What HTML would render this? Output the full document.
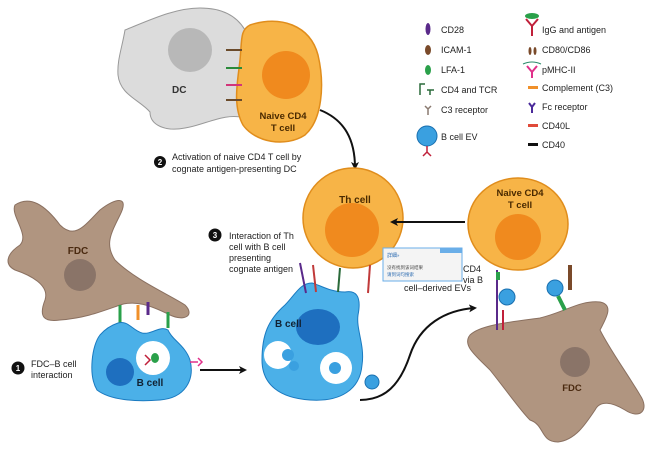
<!DOCTYPE html>
<html><head><meta charset="utf-8"><style>
body{margin:0;background:#fff}
svg{display:block;font-family:"Liberation Sans",sans-serif}
.t{font-size:9px;fill:#222}
.b{font-weight:bold}
</style></head><body>
<svg width="653" height="453" viewBox="0 0 653 453" xmlns="http://www.w3.org/2000/svg">
<defs>
<marker id="ah" markerWidth="8" markerHeight="8" refX="6" refY="4" orient="auto" markerUnits="userSpaceOnUse"><path d="M0,0 L8,4 L0,8 L2,4z" fill="#111"/></marker>
</defs>
<!-- DC -->
<path d="M125,30 C150,20 175,8 200,8 C225,8 238,18 245,30 L245,118 C225,112 205,125 185,128 C165,132 150,125 150,112 C140,100 120,95 118,75 C117,60 122,48 125,30Z" fill="#dcdcdc" stroke="#999" stroke-width="1"/>
<circle cx="190" cy="50" r="22" fill="#b8b8b8"/>
<text x="172" y="93" class="b" font-size="10" fill="#333">DC</text>
<!-- naive CD4 top -->
<path d="M250,25 C280,15 310,25 318,55 C325,85 322,120 305,135 C285,148 255,142 243,125 C232,105 238,80 240,60 C242,40 240,30 250,25Z" fill="#f7b447" stroke="#e08d1c" stroke-width="1.5"/>
<circle cx="286" cy="75" r="24" fill="#f08a1e"/>
<text x="283" y="119" class="b" font-size="9.5" fill="#4a2a00" text-anchor="middle">Naive CD4</text>
<text x="283" y="131" class="b" font-size="9.5" fill="#4a2a00" text-anchor="middle">T cell</text>
<!-- connectors DC-T -->
<g stroke-width="2">
<line x1="226" y1="50" x2="242" y2="50" stroke="#6a4a2a"/><line x1="226" y1="68" x2="242" y2="68" stroke="#2a8a3a"/>
<line x1="226" y1="85" x2="242" y2="85" stroke="#d2357a"/><line x1="226" y1="100" x2="242" y2="100" stroke="#6a4a2a"/>
</g>
<!-- step 2 -->
<circle cx="160" cy="162" r="6" fill="#111"/><text x="160" y="165" font-size="8" fill="#fff" text-anchor="middle" class="b">2</text>
<text x="172" y="160" class="t">Activation of naive CD4 T cell by</text>
<text x="172" y="172" class="t">cognate antigen-presenting DC</text>
<path d="M320,110 C345,120 355,140 355,168" fill="none" stroke="#111" stroke-width="2" marker-end="url(#ah)"/>
<!-- legend -->
<g class="t">
<ellipse cx="428" cy="29" rx="2.5" ry="6" fill="#5a2a8a"/><text x="441" y="33">CD28</text>
<ellipse cx="428" cy="50" rx="3" ry="5" fill="#7a4a2a"/><text x="441" y="53">ICAM-1</text>
<ellipse cx="428" cy="70" rx="3" ry="5" fill="#2aa04a"/><text x="441" y="73">LFA-1</text>
<path d="M420,95 L420,84 L425,84 M427,90 L434,90 M430,90 L430,95" stroke="#2a6a3a" stroke-width="1.5" fill="none"/><text x="441" y="93">CD4 and TCR</text>
<path d="M425,106 L428,109 L431,106 M428,109 L428,115" stroke="#8a7a70" stroke-width="1.5" fill="none"/><text x="441" y="113">C3 receptor</text>
<circle cx="427" cy="136" r="10" fill="#3aa0e0" stroke="#1a70b0"/><path d="M427,146 L427,153 M423,156 L427,152 L431,156" stroke="#c0203a" stroke-width="1.5" fill="none"/>
<text x="441" y="140">B cell EV</text>
<path d="M526,19 L532,26 L538,19 M532,26 L532,36" stroke="#c0203a" stroke-width="2" fill="none"/><ellipse cx="532" cy="16" rx="7" ry="3" fill="#2aa04a"/><text x="542" y="33">IgG and antigen</text>
<ellipse cx="530" cy="51" rx="1.5" ry="4" fill="#7a4a2a"/><ellipse cx="535" cy="51" rx="1.5" ry="4" fill="#7a4a2a"/><text x="542" y="53">CD80/CD86</text>
<path d="M527,66 L532,72 L537,66 M532,72 L532,78" stroke="#e0308a" stroke-width="2" fill="none"/><path d="M523,64 Q532,60 541,64" stroke="#2a8a6a" fill="none"/><text x="542" y="73">pMHC-II</text>
<rect x="528" y="86" width="10" height="3" fill="#f0902a"/><text x="542" y="91">Complement (C3)</text>
<path d="M529,103 L532,107 L535,103 M532,107 L532,113" stroke="#4a2a9a" stroke-width="2" fill="none"/><text x="542" y="110">Fc receptor</text>
<rect x="528" y="124" width="10" height="3" fill="#e04a3a"/><text x="542" y="129">CD40L</text>
<rect x="528" y="143" width="10" height="3" fill="#111"/><text x="542" y="148">CD40</text>
</g>
<!-- Th cell -->
<circle cx="353" cy="218" r="50" fill="#f7b447" stroke="#e08d1c" stroke-width="1.5"/>
<circle cx="352" cy="230" r="27" fill="#f08a1e"/>
<text x="355" y="203" class="b" font-size="10" fill="#4a2a00" text-anchor="middle">Th cell</text>
<!-- step 3 -->
<circle cx="215" cy="235" r="6.5" fill="#111"/><text x="215" y="238" font-size="8" fill="#fff" text-anchor="middle" class="b">3</text>
<g class="t"><text x="229" y="239">Interaction of Th</text><text x="229" y="250">cell with B cell</text><text x="229" y="261">presenting</text><text x="229" y="272">cognate antigen</text></g>
<!-- B cell center -->
<path d="M312,283 C320,285 330,292 345,292 C355,290 362,295 358,315 C356,330 365,345 362,365 C360,390 340,402 310,400 C280,398 262,385 262,360 C262,335 268,320 285,305 C295,295 300,283 312,283Z" fill="#4bb0e8" stroke="#1a7ac0" stroke-width="1"/>
<ellipse cx="318" cy="327" rx="22" ry="18" fill="#1e6fbf"/>
<text x="275" y="327" class="b" font-size="10" fill="#123">B cell</text>
<circle cx="278" cy="355" r="14" fill="#fff"/><circle cx="336" cy="368" r="16" fill="#fff"/>
<circle cx="288" cy="355" r="6" fill="#3aa0e0"/><circle cx="335" cy="368" r="6" fill="#3aa0e0"/><circle cx="294" cy="366" r="5" fill="#3aa0e0"/>
<circle cx="372" cy="382" r="7" fill="#3aa0e0" stroke="#1a70b0"/>
<g stroke-width="2"><line x1="300" y1="263" x2="306" y2="293" stroke="#5a2a8a"/><line x1="313" y1="265" x2="316" y2="292" stroke="#c03a3a"/><line x1="370" y1="265" x2="368" y2="293" stroke="#c03a3a"/><line x1="340" y1="268" x2="338" y2="292" stroke="#2a6a3a"/></g>
<!-- popup -->
<rect x="383" y="248" width="79" height="33" fill="#f4f4f4" stroke="#6aaee8"/>
<rect x="440" y="248" width="22" height="5" fill="#6aaee8"/>
<text x="387" y="257" font-size="5" fill="#2a6ab0" font-family="'Noto Sans CJK SC',sans-serif">詳細»</text>
<text x="387" y="269" font-size="4.5" fill="#444" font-family="'Noto Sans CJK SC',sans-serif">没有找到该词结果</text>
<text x="387" y="276" font-size="4.5" fill="#2a6ab0" font-family="'Noto Sans CJK SC',sans-serif">请到词句搜索</text>
<g class="t"><text x="463" y="272">CD4</text><text x="463" y="283">via B</text><text x="404" y="291">cell–derived EVs</text></g>
<!-- right arrow -->
<line x1="465" y1="222" x2="392" y2="222" stroke="#111" stroke-width="2" marker-end="url(#ah)"/>
<!-- right T cell -->
<ellipse cx="518" cy="224" rx="50" ry="46" fill="#f7b447" stroke="#e08d1c" stroke-width="1.5"/>
<circle cx="518" cy="237" r="23" fill="#f08a1e"/>
<text x="520" y="196" class="b" font-size="9.5" fill="#4a2a00" text-anchor="middle">Naive CD4</text>
<text x="520" y="208" class="b" font-size="9.5" fill="#4a2a00" text-anchor="middle">T cell</text>
<!-- right FDC -->
<path d="M470,335 C480,325 510,322 540,318 C565,312 580,300 600,302 C615,305 605,320 600,330 C610,350 625,370 640,395 C650,410 640,420 625,410 C612,402 600,400 595,410 C585,425 575,440 558,442 C540,442 545,425 530,420 C520,410 510,395 490,370 C475,355 462,345 470,335Z" fill="#b09580" stroke="#8a7060"/>
<circle cx="575" cy="362" r="15" fill="#8a7468"/>
<text x="572" y="391" class="b" font-size="9.5" fill="#4a2a10" text-anchor="middle">FDC</text>
<circle cx="507" cy="297" r="8" fill="#3aa0e0" stroke="#1a70b0"/><circle cx="555" cy="288" r="8" fill="#3aa0e0" stroke="#1a70b0"/>
<g stroke-width="2"><line x1="497" y1="270" x2="497" y2="330" stroke="#5a2a8a"/><line x1="503" y1="310" x2="503" y2="330" stroke="#c0203a"/><line x1="498" y1="272" x2="498" y2="280" stroke="#2aa04a" stroke-width="4"/><line x1="558" y1="296" x2="565" y2="310" stroke="#2aa04a" stroke-width="4"/><line x1="570" y1="265" x2="570" y2="290" stroke="#7a4a2a" stroke-width="4"/></g>
<!-- curved arrow -->
<path d="M360,400 C385,400 400,385 410,355 C420,325 445,310 475,308" fill="none" stroke="#111" stroke-width="2" marker-end="url(#ah)"/>
<!-- left FDC -->
<path d="M15,205 C30,195 45,205 60,225 C75,240 85,225 100,210 C115,198 130,195 120,215 C110,235 105,245 115,260 C135,280 170,295 185,305 C195,315 185,322 170,315 C150,305 135,300 120,305 C100,312 85,318 60,320 C45,322 38,318 45,300 C50,285 30,275 15,270 C5,265 5,255 20,245 C30,235 10,215 15,205Z" fill="#b09580" stroke="#8a7060"/>
<circle cx="80" cy="275" r="16" fill="#8a7468"/>
<text x="78" y="254" class="b" font-size="10" fill="#4a2a10" text-anchor="middle">FDC</text>
<g stroke-width="3"><line x1="120" y1="305" x2="120" y2="325" stroke="#2aa04a"/><line x1="168" y1="312" x2="168" y2="328" stroke="#2aa04a"/><line x1="138" y1="305" x2="138" y2="320" stroke="#f0902a"/><line x1="148" y1="302" x2="148" y2="315" stroke="#5a2a8a"/></g>
<!-- bottom left B cell -->
<path d="M118,323 C128,320 132,330 142,333 C152,335 160,325 168,330 C172,340 185,345 190,360 C195,380 185,398 160,400 C135,402 110,400 97,390 C88,375 92,345 100,335 C106,328 112,325 118,323Z" fill="#4bb0e8" stroke="#1a7ac0"/>
<circle cx="120" cy="372" r="14" fill="#1e6fbf"/>
<circle cx="153" cy="358" r="17" fill="#fff"/>
<path d="M145,355 L150,360 L145,365" stroke="#c0203a" stroke-width="1.5" fill="none"/><ellipse cx="155" cy="358" rx="4" ry="5" fill="#2aa04a"/>
<text x="150" y="386" class="b" font-size="10" fill="#123" text-anchor="middle">B cell</text>
<path d="M190,362 L198,362 M198,358 L202,362 L198,366" stroke="#e0308a" stroke-width="1.5" fill="none"/>
<!-- step 1 -->
<circle cx="18" cy="368" r="6.5" fill="#111"/><text x="18" y="371" font-size="8" fill="#fff" text-anchor="middle" class="b">1</text>
<text x="31" y="367" class="t">FDC–B cell</text><text x="31" y="378" class="t">interaction</text>
<line x1="200" y1="370" x2="245" y2="370" stroke="#111" stroke-width="2" marker-end="url(#ah)"/>
</svg>
</body></html>
